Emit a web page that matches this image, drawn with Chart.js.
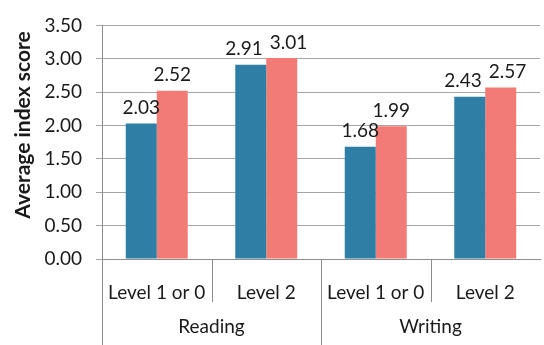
<!DOCTYPE html>
<html>
<head>
<meta charset="utf-8">
<script src="https://cdn.jsdelivr.net/npm/chart.js@4/dist/chart.umd.min.js"></script>
<style>
  html, body { margin: 0; padding: 0; background: #fff; }
  #wrap { width: 544px; height: 345px; }
</style>
</head>
<body>
<div id="wrap"><canvas id="scoreChart"></canvas></div>
<script>
const levels = ['Level 1 or 0', 'Level 2', 'Level 1 or 0', 'Level 2'];
const skills = ['Reading', 'Writing'];
const seriesA = [2.03, 2.91, 1.68, 2.43];
const seriesB = [2.52, 3.01, 1.99, 2.57];
const yTicks = [0, 0.5, 1, 1.5, 2, 2.5, 3, 3.5];

const FONT = 'Lato, "Open Sans", sans-serif';
const LINE = '#8c8c8c';
const TEXT = '#1a1a1a';

// value labels above each bar, nudged apart when a pair would collide
const valueLabels = {
  id: 'valueLabels',
  afterDatasetsDraw(chart) {
    const ctx = chart.ctx;
    ctx.save();
    ctx.font = '19px ' + FONT;
    ctx.fillStyle = TEXT;
    ctx.textAlign = 'center';
    ctx.textBaseline = 'bottom';
    const barsA = chart.getDatasetMeta(0).data;
    const barsB = chart.getDatasetMeta(1).data;
    levels.forEach((_, i) => {
      const ta = seriesA[i].toFixed(2);
      const tb = seriesB[i].toFixed(2);
      const ya = barsA[i].y - 6;
      const yb = barsB[i].y - 6;
      let xa = barsA[i].x;
      let xb = barsB[i].x;
      const overlapV = Math.abs(ya - yb) < 20;
      const need = (ctx.measureText(ta).width + ctx.measureText(tb).width) / 2 + 7;
      if (overlapV && xb - xa < need) {
        const push = (need - (xb - xa)) / 2;
        xa -= push;
        xb += push;
      }
      ctx.fillText(ta, xa, ya);
      ctx.fillText(tb, xb, yb);
    });
    ctx.restore();
  }
};

// category separators, second row of group labels and the y title
const groupAxis = {
  id: 'groupAxis',
  afterDraw(chart) {
    const ctx = chart.ctx;
    const x = chart.scales.x;
    const bottom = x.top;
    const step = x.getPixelForValue(1) - x.getPixelForValue(0);
    ctx.save();
    ctx.strokeStyle = LINE;
    ctx.lineWidth = 1;
    for (let i = 0; i < levels.length; i++) {
      const px = Math.round(x.getPixelForValue(i) - step / 2) + 0.5;
      ctx.beginPath();
      ctx.moveTo(px, bottom);
      ctx.lineTo(px, i % 2 === 0 ? chart.height : bottom + 43);
      ctx.stroke();
    }
    ctx.font = '19px ' + FONT;
    ctx.fillStyle = TEXT;
    ctx.textAlign = 'center';
    ctx.textBaseline = 'middle';
    skills.forEach((name, g) => {
      const cx = (x.getPixelForValue(g * 2) + x.getPixelForValue(g * 2 + 1)) / 2;
      ctx.fillText(name, cx, 327);
    });

    ctx.translate(23, 125);
    ctx.rotate(-Math.PI / 2);
    ctx.font = 'bold 21px ' + FONT;
    ctx.fillText('Average index score', 0, 0);
    ctx.restore();
  }
};

const config = {
  type: 'bar',
  data: {
    labels: levels,
    datasets: [
      { label: 'A', data: seriesA, backgroundColor: '#2f7ea6', borderWidth: 0 },
      { label: 'B', data: seriesB, backgroundColor: '#f27c75', borderWidth: 0 }
    ]
  },
  options: {
    responsive: true,
    maintainAspectRatio: false,
    animation: false,
    layout: { padding: { top: 11, right: 4, left: 0, bottom: 0 } },
    datasets: { bar: { categoryPercentage: 0.566, barPercentage: 1 } },
    plugins: { legend: { display: false }, tooltip: { enabled: false } },
    scales: {
      x: {
        grid: { display: false },
        border: { color: LINE },
        ticks: { color: TEXT, font: { family: FONT, size: 19 }, padding: 14, maxRotation: 0 },
        afterFit(scale) { scale.height = 86; }
      },
      y: {
        min: 0,
        max: 3.5,
        afterBuildTicks(scale) { scale.ticks = yTicks.map(v => ({ value: v })); },
        grid: { color: '#a6a6a6', tickLength: 6 },
        border: { color: LINE },
        ticks: {
          color: TEXT,
          font: { family: FONT, size: 19 },
          padding: 14,
          callback: v => Number(v).toFixed(2)
        },
        afterFit(scale) { scale.width = 102; }
      }
    }
  },
  plugins: [valueLabels, groupAxis]
};

new Chart(document.getElementById('scoreChart').getContext('2d'), config);
</script>
</body>
</html>
